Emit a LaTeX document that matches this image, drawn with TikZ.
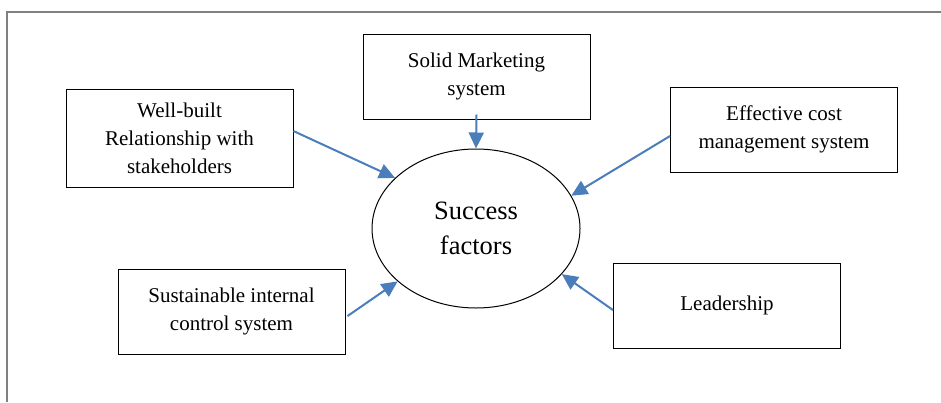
\documentclass[tikz,border=0pt]{standalone}
\usepackage{fontspec}
\setmainfont{Liberation Serif}
\usetikzlibrary{shapes.geometric,arrows.meta,calc}
\definecolor{arrowblue}{HTML}{4A7EBB}
\definecolor{framegray}{HTML}{808080}
\tikzset{
  factorbox/.style={draw=black,line width=1pt,inner sep=0pt,minimum width=227pt,minimum height=85pt,align=center,font=\fontsize{21}{28}\selectfont},
  centre/.style={draw=black,line width=1pt,ellipse,inner sep=0pt,minimum width=208pt,minimum height=159pt,align=center,font=\fontsize{26.5}{35}\selectfont},
  feed/.style={draw=arrowblue,line width=2pt,-{Triangle[length=16pt,width=15pt]}},
  frameline/.style={draw=framegray,line width=2pt}
}
\begin{document}
\begin{tikzpicture}[x=1pt,y=-1pt]
\useasboundingbox (0,0) rectangle (941,402);
\draw[frameline] (7,402) -- (7,12) -- (941,12);
\node[centre] (sf) at (476,228.5) {Success\\factors};
\node[factorbox,minimum height=98pt] (wb) at (179.5,138) {Well-built\\Relationship with\\stakeholders};
\node[factorbox] (sm) at (476.5,76.5) {Solid Marketing\\system};
\node[factorbox] (ec) at (784,129.5) {Effective cost\\management system};
\node[factorbox] (si) at (231.5,311.5) {Sustainable internal\\control system};
\node[factorbox] (ld) at (727,305.5) {Leadership};
\draw[feed] ($(sm.south)+(0,-5)$) -- (sf.north);
\draw[feed] ($(wb.north east)!0.43!(wb.south east)$) -- (sf.148);
\draw[feed] ($(ec.north west)!0.576!(ec.south west)$) -- (sf.19);
\draw[feed] ($(si.north east)!0.553!(si.south east)+(2,0)$) -- (sf.214);
\draw[feed] ($(ld.north west)!0.553!(ld.south west)$) -- (sf.332);
\end{tikzpicture}
\end{document}
